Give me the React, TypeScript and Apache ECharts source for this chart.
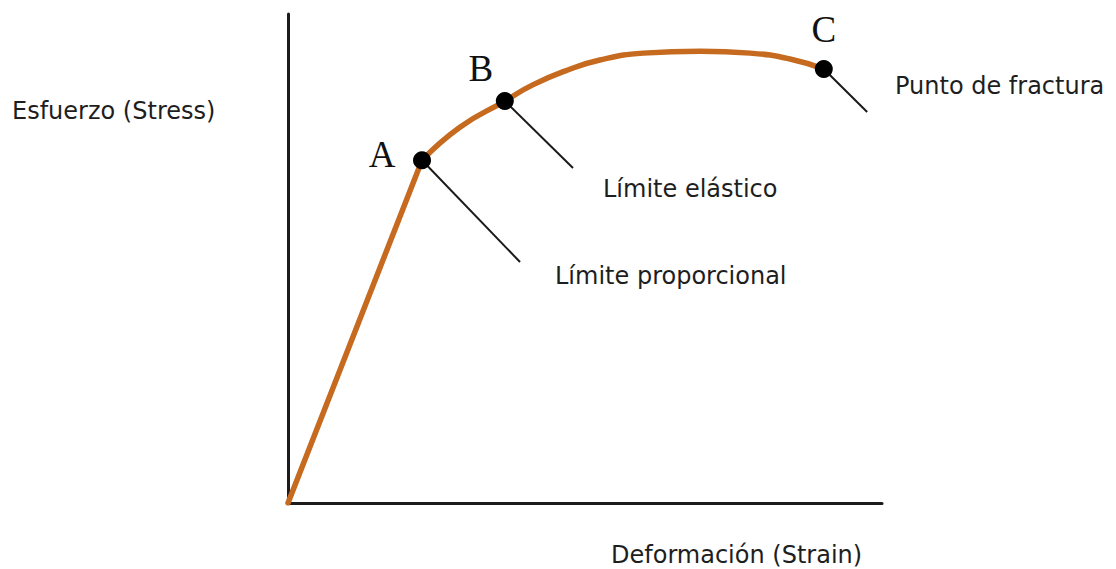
import React, { useEffect, useRef } from "react";
import * as echarts from "echarts";

// Stress–strain curve (relative units, 0..100 on both axes)
const elasticSegment: number[][] = [
  [0, 0],
  [22.56, 70.1],
];
const plasticCurve: number[][] = [
  [22.56, 70.1],
  [29.0, 76.9],
  [36.5, 82.2],
  [41.2, 85.5],
  [47.0, 88.5],
  [52.5, 90.6],
  [59.8, 92.0],
  [69.4, 92.4],
  [77.8, 92.0],
  [84.5, 90.8],
  [90.2, 88.75],
];
const keyPointNames = ["A", "B", "C"];
const keyPoints: number[][] = [
  [22.56, 70.1],
  [36.5, 82.2],
  [90.2, 88.75],
];
const calloutEnds: number[][] = [
  [39.06, 49.28],
  [47.98, 68.5],
  [97.5, 79.96],
];
const calloutTexts = ["Límite proporcional", "Límite elástico", "Punto de fractura"];
const yAxisTitle = "Esfuerzo (Stress)";
const xAxisTitle = "Deformación (Strain)";

const CURVE = "#c56a1e";
const LABEL_FONT = "'DejaVu Sans', sans-serif";

export default function App() {
  const ref = useRef<HTMLDivElement>(null);
  useEffect(() => {
    document.body.style.margin = "0";
    if (!ref.current) return;
    const chart = echarts.init(ref.current, null, { renderer: "svg" });
    const letterOffsets = [
      [-40, -6],
      [-24, -33],
      [0, -40],
    ];
    const textPos = [
      { x: 555, y: 276 },
      { x: 603, y: 189 },
      { x: 895, y: 86 },
    ];
    const textStyle = {
      fill: "#1e1e1e",
      fontSize: 24,
      fontFamily: LABEL_FONT,
      verticalAlign: "middle",
      align: "left",
    };
    chart.setOption({
      animation: false,
      backgroundColor: "#ffffff",
      grid: { left: 288, top: 14, right: 234, bottom: 66 },
      xAxis: {
        type: "value",
        min: 0,
        max: 100,
        axisLine: { show: true, lineStyle: { color: "#1c1c1c", width: 3 } },
        axisTick: { show: false },
        axisLabel: { show: false },
        splitLine: { show: false },
      },
      yAxis: {
        type: "value",
        min: 0,
        max: 100,
        axisLine: { show: true, lineStyle: { color: "#1c1c1c", width: 3 } },
        axisTick: { show: false },
        axisLabel: { show: false },
        splitLine: { show: false },
      },
      series: [
        ...calloutEnds.map((end, i) => ({
          type: "line",
          data: [keyPoints[i], end],
          symbol: "none",
          lineStyle: { color: "#1a1a1a", width: 2 },
          z: 1,
        })),
        {
          type: "line",
          data: elasticSegment,
          symbol: "none",
          lineStyle: { color: CURVE, width: 5.5, cap: "round" },
          z: 2,
        },
        {
          type: "line",
          data: plasticCurve,
          smooth: 0.5,
          symbol: "none",
          lineStyle: { color: CURVE, width: 5.5, cap: "round" },
          z: 2,
        },
        {
          type: "scatter",
          data: keyPoints.map((p, i) => ({
            value: p,
            name: keyPointNames[i],
            label: {
              show: true,
              position: "inside",
              offset: letterOffsets[i],
              formatter: keyPointNames[i],
              color: "#111",
              fontSize: 37,
              fontFamily: "'Liberation Serif', 'Times New Roman', serif",
            },
          })),
          symbolSize: 18,
          itemStyle: { color: "#000000", opacity: 1 },
          z: 3,
        },
      ],
      graphic: [
        ...calloutTexts.map((t, i) => ({
          type: "text",
          x: textPos[i].x,
          y: textPos[i].y,
          style: { text: t, ...textStyle },
        })),
        {
          type: "text",
          x: 12,
          y: 111,
          style: { text: yAxisTitle, ...textStyle },
        },
        {
          type: "text",
          x: 611,
          y: 555,
          style: { text: xAxisTitle, ...textStyle },
        },
      ],
    });
    return () => chart.dispose();
  }, []);
  return <div ref={ref} style={{ width: 1116, height: 569 }} />;
}
